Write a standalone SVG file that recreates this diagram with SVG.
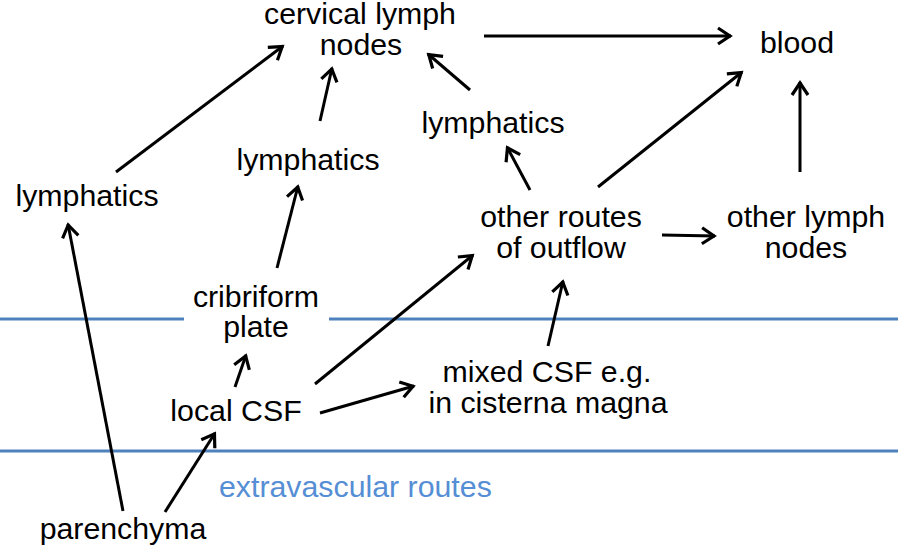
<svg xmlns="http://www.w3.org/2000/svg" width="898" height="549" viewBox="0 0 898 549">
<style>
text{font-family:"Liberation Sans",Arial,sans-serif;font-size:30.3px;fill:#000;text-anchor:middle}
.blue{fill:#558ed5;text-anchor:start}
.sep{stroke:#4f81bd;stroke-width:3}
.c line{stroke:#000;stroke-width:3;marker-end:url(#ah)}
</style>
<defs>
<marker id="ah" markerUnits="userSpaceOnUse" viewBox="-16 -10 20 20" refX="0" refY="0" markerWidth="20" markerHeight="20" orient="auto">
<path d="M-13,-8 L-1,0 L-13,8" fill="none" stroke="#000" stroke-width="3.2"/>
</marker>
</defs>
<rect width="898" height="549" fill="#fff"/>
<g id="separators">
<line class="sep" x1="0" y1="319" x2="184" y2="319"/>
<line class="sep" x1="329" y1="319" x2="898" y2="319"/>
<line class="sep" x1="0" y1="451" x2="898" y2="451"/>
<text class="blue" x="219" y="497">extravascular routes</text>
</g>
<g class="c" id="connectors">
<line x1="116" y1="172" x2="283" y2="46"/>
<line x1="320" y1="121" x2="332" y2="68"/>
<line x1="470" y1="90" x2="428" y2="54"/>
<line x1="484" y1="36" x2="731" y2="36"/>
<line x1="598" y1="187" x2="742" y2="72"/>
<line x1="800" y1="172" x2="800" y2="82"/>
<line x1="530" y1="190" x2="507" y2="147"/>
<line x1="662" y1="235" x2="715" y2="236"/>
<line x1="548" y1="346" x2="563" y2="281"/>
<line x1="315" y1="384" x2="473" y2="255"/>
<line x1="320" y1="413" x2="414" y2="386"/>
<line x1="235" y1="387" x2="246" y2="355"/>
<line x1="165" y1="512" x2="215" y2="433"/>
<line x1="123" y1="511" x2="68" y2="224"/>
<line x1="277" y1="268" x2="298" y2="186"/>
</g>
<g id="cervical"><text x="360" y="24">cervical lymph</text><text x="361" y="55">nodes</text></g>
<g id="blood"><text x="797" y="53">blood</text></g>
<g id="lymph-left"><text x="87" y="206">lymphatics</text></g>
<g id="lymph-mid"><text x="308" y="170">lymphatics</text></g>
<g id="lymph-right"><text x="493" y="133">lymphatics</text></g>
<g id="other-routes"><text x="561" y="227">other routes</text><text x="561" y="258">of outflow</text></g>
<g id="other-lymph"><text x="806" y="227">other lymph</text><text x="806" y="258">nodes</text></g>
<g id="cribriform"><text x="256" y="307">cribriform</text><text x="256" y="337">plate</text></g>
<g id="local-csf"><text x="236" y="421">local CSF</text></g>
<g id="mixed-csf"><text x="547" y="382">mixed CSF e.g.</text><text x="548" y="413">in cisterna magna</text></g>
<g id="parenchyma"><text x="123" y="539">parenchyma</text></g>
</svg>
